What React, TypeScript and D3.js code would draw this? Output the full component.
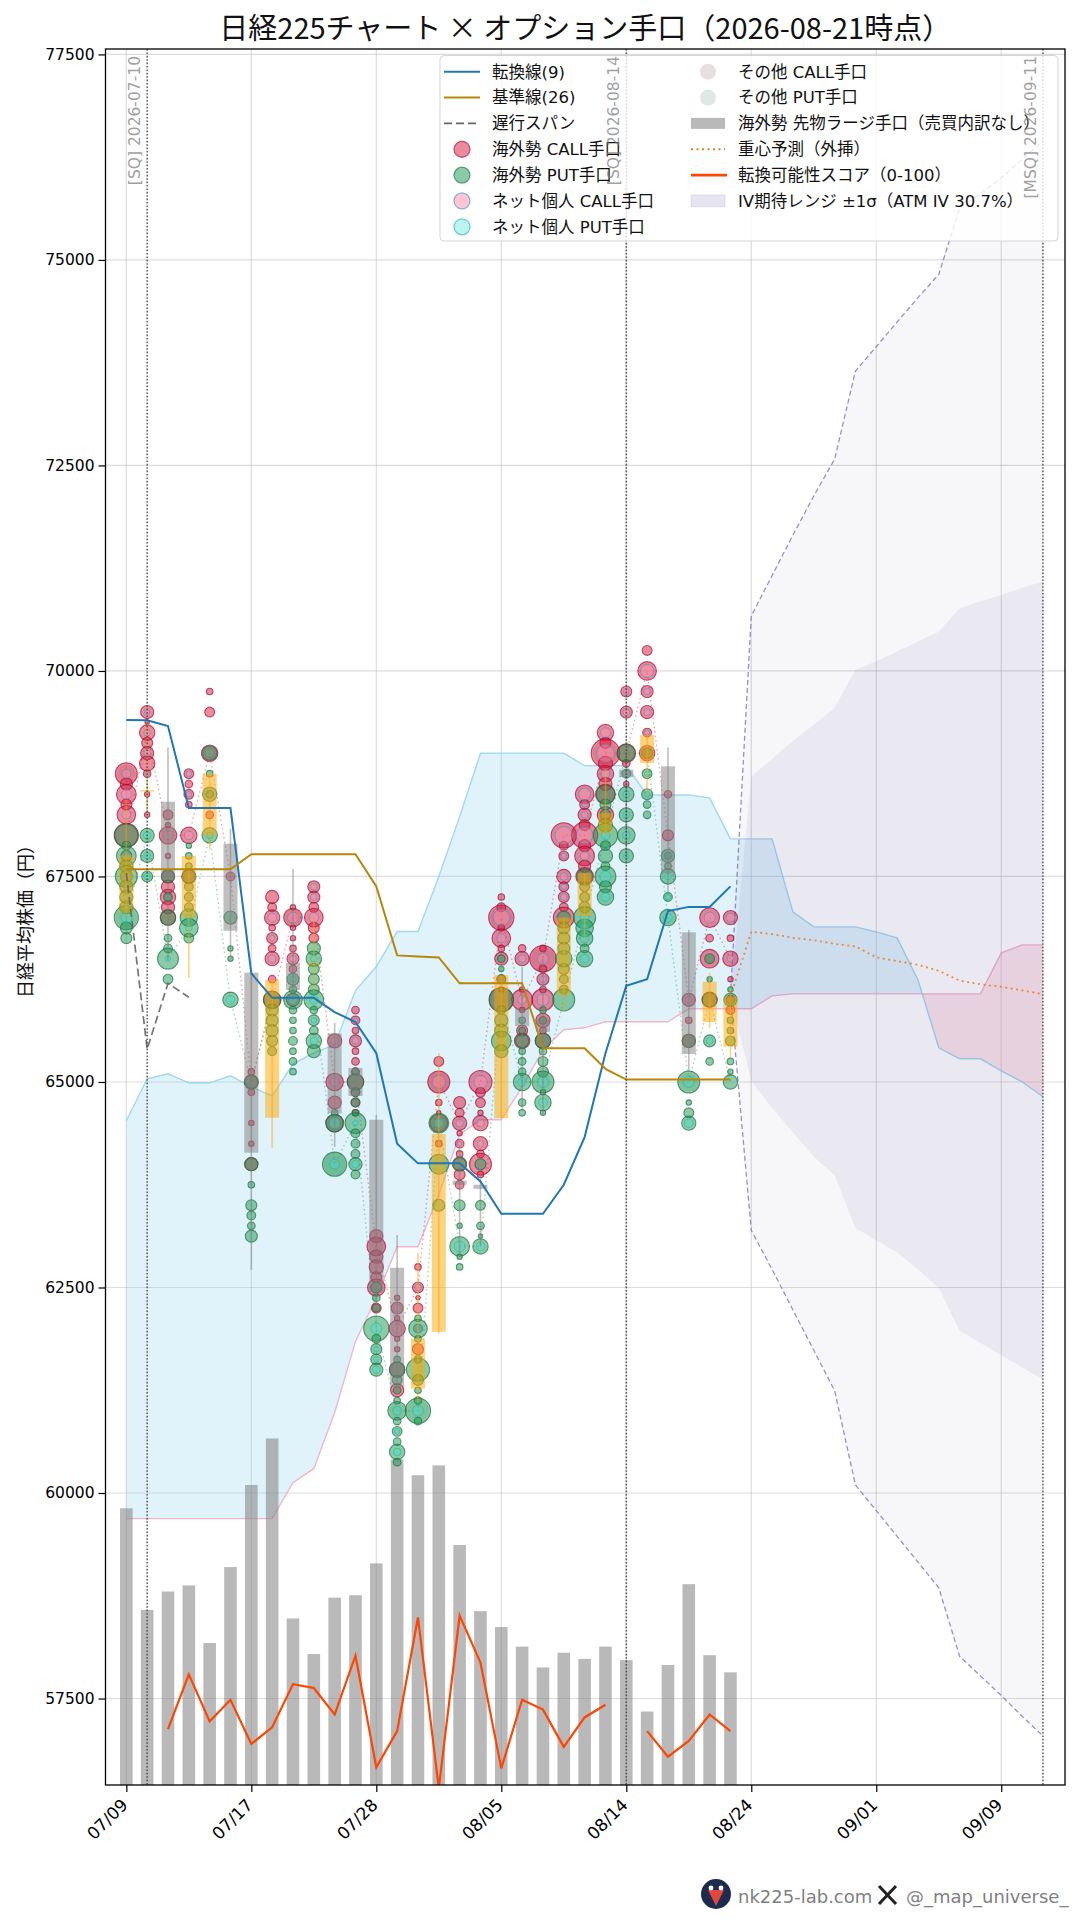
import React, { useRef, useEffect } from "react";
import * as d3 from "d3";

type Row = [number, number, number?];

const W = 1080;
const H = 1920;
const JP = '"Noto Sans CJK JP", "Noto Sans", sans-serif';
const LEGEND_FONT = '"DejaVu Sans", "Noto Sans CJK JP", sans-serif';
const TICK_FONT = '"DejaVu Sans", sans-serif';

const title = "日経225チャート × オプション手口（2026-08-21時点）";
const yLabel = "日経平均株価（円）";
const yTicks = [57500, 60000, 62500, 65000, 67500, 70000, 72500, 75000, 77500];
const xTickIdx = [0, 6, 12, 18, 24, 30, 36, 42];
const xTickLabels = ["07/09", "07/17", "07/28", "08/05", "08/14", "08/24", "09/01", "09/09"];
const sqLines: [number, string][] = [
  [1, "[SQ] 2026-07-10"],
  [24, "[SQ] 2026-08-14"],
  [44, "[MSQ] 2026-09-11"],
];

// ローソク足
const opens = [67057, 68540, 68410, 67000, 68000, 67900, 66330, 64565, 66450, 66420, 65590, 65170, 64540, 62740, 61270, 61960, 63800, 63750, 64560, 65900, 65760, 66060, 67020, 68030, 68800, 68880, 68840, 66820, 65730, 65430];
const closes = [67757, 68550, 67470, 67750, 68750, 66840, 64140, 66240, 66120, 66440, 64620, 64830, 62440, 61290, 61880, 64370, 63750, 63700, 66300, 65680, 65610, 67000, 67540, 68270, 68710, 69220, 67540, 65340, 66220, 66040];
const highs = [68430, 69385, 69070, 67750, 68750, 68080, 66330, 66240, 67590, 67000, 65720, 65170, 64600, 63140, 62920, 65350, 64200, 63900, 66300, 66400, 66500, 67000, 67540, 68800, 68900, 69220, 69070, 66850, 66330, 66150];
const lows = [67000, 68270, 66480, 66265, 67830, 66490, 62715, 64200, 66000, 66100, 64210, 64700, 62230, 61200, 61100, 61940, 62900, 63000, 64560, 64650, 64600, 65850, 66730, 68000, 67700, 68490, 67300, 65130, 65660, 65300];

// 一目均衡表
const tenkan = [69404, 69400, 69330, 68332, 68332, 68332, 66322, 66024, 66024, 66024, 65850, 65730, 65350, 64250, 64010, 64010, 64010, 63790, 63397, 63397, 63397, 63750, 64330, 65350, 66170, 66250, 67080, 67130, 67130, 67380];
const kijun = [67588, 67588, 67588, 67588, 67588, 67588, 67770, 67770, 67770, 67770, 67770, 67770, 67380, 66540, 66525, 66515, 66200, 66200, 66200, 66200, 65410, 65410, 65410, 65160, 65030, 65030, 65030, 65030, 65030, 65030];
const chikou = [67540, 65400, 66200, 66030];
const spanA = [64528, 65039, 65100, 64990, 64990, 65075, 64941, 64832, 65221, 65355, 65452, 66112, 66404, 66830, 66830, 67499, 68228, 68999, 69000, 69000, 69000, 69000, 68848, 68848, 68848, 68492, 68492, 68492, 68456, 67957, 67957, 67957, 67069, 66887, 66887, 66887, 66826, 66753, 66243, 65416, 65282, 65282, 65136, 65002, 64820];
const spanB = [59688, 59688, 59688, 59688, 59688, 59688, 59688, 59688, 60126, 60296, 60977, 61841, 62376, 62996, 62996, 63628, 64358, 64540, 64540, 64941, 65391, 65635, 65659, 65732, 65732, 65732, 65732, 65890, 65890, 65890, 65890, 66048, 66072, 66072, 66072, 66072, 66072, 66072, 66072, 66072, 66072, 66072, 66571, 66668, 66668];

// IVレンジ・重心予測（index 29 から）
const ivStartIdx = 29;
const ivOuterUp = [66040, 70670, 71161, 71653, 72129, 72576, 73648, 73946, 74244, 74541, 74824, 75628, 75807, 76000, 76224, 76447];
const ivOuterLow = [66040, 63195, 62719, 62227, 61736, 61245, 60098, 59785, 59473, 59160, 58847, 58013, 57775, 57537, 57284, 57045];
const ivInnerUp = [66040, 68719, 68928, 69151, 69345, 69553, 70015, 70119, 70238, 70357, 70476, 70759, 70849, 70923, 71012, 71087];
const ivInnerLow = [66040, 65012, 64684, 64387, 64089, 63866, 63225, 63076, 62927, 62719, 62495, 61974, 61825, 61676, 61528, 61379];
const forecast = [66040, 66828, 66798, 66754, 66725, 66680, 66650, 66516, 66471, 66426, 66352, 66233, 66188, 66158, 66114, 66069];

// 先物ラージ手口・転換スコア
const futuresVolume = [22600, 14300, 15800, 16300, 11600, 17800, 24500, 28300, 13600, 10700, 15300, 15500, 18100, 26600, 25300, 26100, 19600, 14200, 12900, 11300, 9600, 10800, 10300, 11300, 10200, 6000, 9800, 16400, 10600, 9200];
const score: (number | null)[] = [null, null, 30, 58, 34, 45, 22.5, 31, 53, 51, 37.5, 67.5, 10.5, 29, 87, 0, 88, 64, 10, 45, 40, 21, 36, 42.5, null, 29, 16, 24, 37.5, 29];

// 日別 CALL手口 [行使価格, 海外勢, ネット個人]
const callsByDay: Row[][] = [
  [[68750, 100, 16], [68625, 30], [68500, 81, 20], [68375, 25], [68250, 72, 16], [68000, 121], [67750, 25], [67500, 30, 9]],
  [[69500, 36, 6], [69375, 4], [69250, 49, 9], [69125, 25], [69000, 36, 9], [68875, 49], [68750, 12, 4], [68500, 6], [68250, 6]],
  [[68250, 20], [68125, 6], [68000, 64, 16], [67750, 6], [67500, 36], [67375, 36], [67250, 49, 9], [67125, 36], [67000, 49]],
  [[68750, 20, 6], [68625, 12], [68500, 20, 6], [68375, 9], [68000, 56, 16], [67500, 42, 12]],
  [[69750, 9], [69500, 20], [69000, 56, 16], [68500, 12], [68250, 12]],
  [[67500, 16]],
  [[65125, 9], [65000, 36], [64875, 9], [64500, 6], [64250, 6], [64000, 36]],
  [[67250, 36], [67125, 16], [67000, 49, 16], [66875, 9], [66750, 25, 6], [66625, 12], [66500, 42, 12], [66250, 12], [66000, 64]],
  [[67125, 6], [67000, 72, 25], [66875, 6], [66750, 6], [66625, 9], [66500, 30, 9], [66375, 12], [66000, 36]],
  [[67375, 30, 9], [67250, 30, 9], [67125, 20], [67000, 72, 20], [66875, 25], [66750, 20]],
  [[65500, 42, 12], [65000, 64, 16], [64750, 36], [64500, 64, 25]],
  [[65875, 12], [65750, 16, 4], [65625, 9], [65500, 30, 9], [65375, 9], [65250, 12], [65125, 12], [65000, 56], [64875, 16], [64750, 16], [64625, 9]],
  [[63125, 36], [63000, 72], [62875, 36], [62750, 42], [62625, 25], [62500, 64, 25], [62250, 20]],
  [[62375, 6], [62250, 30, 12], [62125, 6], [62000, 56, 16], [61875, 6], [61750, 6], [61500, 49], [61250, 36]],
  [[62750, 9], [62500, 25, 9], [62375, 4], [62250, 20], [62000, 16], [61750, 25]],
  [[65250, 20], [65000, 100, 36], [64750, 9], [64625, 4], [64500, 64], [64250, 9]],
  [[64750, 30], [64625, 16], [64500, 42, 12], [64375, 6], [64250, 16, 4], [64125, 9], [64000, 36], [63875, 25], [63750, 16]],
  [[65000, 110, 36], [64875, 20], [64750, 20], [64625, 6], [64500, 49, 12], [64250, 42, 9], [64125, 12], [64000, 100, 25], [63875, 9]],
  [[67250, 9], [67125, 16], [67000, 132, 56], [66875, 9], [66750, 72, 16], [66625, 9], [66500, 36, 9], [66250, 16], [66125, 6], [66000, 121]],
  [[66625, 12], [66500, 42, 12], [66125, 6], [66000, 90, 16], [65875, 6], [65625, 25], [65500, 49]],
  [[66625, 9], [66500, 144, 25], [66375, 12], [66250, 30, 9], [66125, 9], [66000, 100, 30], [65750, 42], [65625, 9], [65500, 49]],
  [[68000, 132, 64], [67875, 16], [67750, 20, 6], [67500, 42, 12], [67375, 20, 6], [67250, 25, 9], [67125, 16], [67000, 90]],
  [[68500, 72, 30], [68375, 20, 6], [68250, 36, 9], [68125, 25], [68000, 144, 56], [67875, 30], [67750, 81, 16], [67625, 30], [67500, 64]],
  [[69250, 56, 20], [69125, 25], [69000, 169, 64], [68875, 42], [68750, 56, 16], [68625, 36], [68500, 81], [68250, 56]],
  [[69750, 25, 6], [69500, 30, 9], [69000, 72], [68875, 12], [68625, 6]],
  [[70250, 20], [70000, 72, 36], [69750, 30, 9], [69500, 36, 9], [69250, 16, 6], [69000, 49]],
  [[68500, 12], [68000, 25], [67750, 9]],
  [[66000, 36, 9], [65750, 9], [65500, 36]],
  [[67000, 81, 25], [66750, 12], [66500, 72], [66000, 49]],
  [[67000, 42, 16], [66750, 9], [66500, 49, 9], [66250, 6], [66000, 16], [65875, 16]],
];

// 日別 PUT手口 [行使価格, 海外勢, ネット個人]
const putsByDay: Row[][] = [
  [[68000, 110], [67875, 16], [67750, 81, 16], [67625, 36], [67500, 100, 25], [67375, 36, 9], [67250, 36, 9], [67125, 36, 9], [67000, 121, 25], [66875, 30], [66750, 25]],
  [[68000, 42, 12], [67750, 36, 9], [67500, 25, 9]],
  [[67500, 36], [67250, 16], [67000, 49], [66750, 12], [66625, 16], [66500, 90, 6], [66250, 20]],
  [[67875, 6], [67750, 9], [67625, 9], [67500, 36], [67375, 16], [67250, 16], [67125, 16], [67000, 64, 9], [66875, 72, 9], [66750, 20]],
  [[69000, 42], [68750, 9], [68500, 42, 9], [68000, 49, 9]],
  [[67000, 36], [66625, 6], [66500, 6], [66000, 49, 16]],
  [[65000, 42], [64000, 36], [63750, 9], [63500, 25], [63375, 16], [63250, 12], [63125, 30]],
  [[66000, 64], [65875, 30], [65750, 30], [65625, 30], [65500, 25], [65375, 16]],
  [[66250, 30, 9], [66125, 12], [66000, 72, 16], [65875, 12], [65750, 9], [65625, 9], [65500, 16], [65375, 9], [65250, 12], [65125, 9]],
  [[66625, 36], [66500, 49, 9], [66375, 25], [66250, 25], [66125, 25], [66000, 81, 16], [65875, 12], [65750, 25, 6], [65625, 16], [65500, 49, 12], [65375, 36]],
  [[64625, 9], [64500, 64, 25], [64000, 121, 20]],
  [[65125, 12], [65000, 56], [64875, 16], [64750, 16], [64625, 9], [64500, 90, 6], [64375, 16], [64250, 16], [64125, 16], [64000, 36, 12], [63875, 16]],
  [[62500, 25], [62375, 12], [62250, 12], [62000, 132, 25], [61875, 16], [61750, 25, 6], [61625, 25, 6], [61500, 36, 12]],
  [[61625, 9], [61500, 49], [61375, 20], [61250, 12], [61125, 9], [61000, 72, 16], [60875, 12], [60750, 20, 6], [60625, 12], [60500, 49, 12], [60375, 12]],
  [[62125, 9], [62000, 72, 16], [61875, 9], [61625, 12], [61500, 110], [61375, 25], [61250, 9], [61125, 12], [61000, 132, 25], [60875, 12]],
  [[64500, 81, 16], [64000, 81], [63500, 30]],
  [[64000, 42], [63500, 25], [63250, 6], [63000, 81, 25], [62875, 6], [62750, 9]],
  [[64000, 25], [63500, 20], [63250, 12], [63125, 4], [63000, 49, 16]],
  [[66500, 12], [66375, 6], [66250, 16], [66000, 121], [65875, 16], [65750, 36], [65625, 36], [65500, 81], [65375, 36]],
  [[65750, 9], [65625, 9], [65500, 36], [65375, 9], [65250, 12], [65125, 12], [65000, 64, 16], [64750, 12], [64625, 9]],
  [[65875, 9], [65750, 12], [65500, 49], [65375, 12], [65250, 20], [65125, 25], [65000, 100, 25], [64875, 6], [64750, 56, 16], [64625, 6]],
  [[67000, 36], [66875, 30], [66750, 30], [66625, 30], [66500, 56], [66375, 25], [66250, 16], [66125, 16], [66000, 100]],
  [[67500, 49], [67375, 20], [67250, 20], [67125, 25], [67000, 100, 16], [66875, 64, 16], [66750, 56, 16], [66625, 16], [66500, 56, 16]],
  [[68500, 72], [68375, 25], [68250, 25], [68125, 42], [68000, 121, 16], [67875, 20], [67750, 42], [67625, 16], [67500, 90, 25], [67375, 30], [67250, 56, 16]],
  [[69000, 64], [68750, 16], [68500, 49, 9], [68250, 42, 9], [68000, 64, 12], [67750, 42, 6]],
  [[69000, 25], [68750, 20, 6], [68500, 25, 6], [68375, 12], [68250, 12]],
  [[67750, 36, 9], [67625, 9], [67500, 49, 9], [67250, 16, 6], [67000, 56, 16]],
  [[65500, 36], [65000, 100, 25], [64750, 6], [64625, 20], [64500, 42, 16]],
  [[66500, 20], [66250, 6, 2], [66000, 42], [65500, 30, 9], [65250, 12]],
  [[66125, 6, 2], [66000, 36], [65750, 9], [65625, 9], [65500, 20], [65250, 9], [65125, 6], [65000, 42]],
];

// その他 [日, 行使価格, 枚数]
const otherCalls: [number, number, number][] = [[0, 68750, 72], [8, 67000, 64], [15, 65000, 81], [18, 67000, 100], [20, 66500, 110], [23, 69000, 132]];
const otherPuts: [number, number, number][] = [[0, 67000, 90], [10, 64000, 100], [13, 61000, 49], [14, 61000, 100], [20, 65000, 64], [27, 65000, 72]];

const legendLeft = ["転換線(9)", "基準線(26)", "遅行スパン", "海外勢 CALL手口", "海外勢 PUT手口", "ネット個人 CALL手口", "ネット個人 PUT手口"];
const legendRight = ["その他 CALL手口", "その他 PUT手口", "海外勢 先物ラージ手口（売買内訳なし）", "重心予測（外挿）", "転換可能性スコア（0-100）", "IV期待レンジ ±1σ（ATM IV 30.7%）"];

const CALL_FILL = "#dc143c";
const CALL_EDGE = "#a01030";
const PUT_FILL = "#1a9850";
const PUT_EDGE = "#1a7040";
const NET_CALL_FILL = "#ff9eb5";
const NET_CALL_EDGE = "#3b8fd0";
const NET_PUT_FILL = "#40e0d0";
const NET_PUT_EDGE = "#20b2aa";

const App: React.FC = () => {
  const svgRef = useRef<SVGSVGElement | null>(null);

  useEffect(() => {
    if (!svgRef.current) return;
    const svg = d3.select(svgRef.current);
    svg.selectAll("*").remove();

    const margin = { top: 49, right: 1065, bottom: 1785, left: 105.5 };

    const x = d3.scaleLinear().domain([-1, 45.06]).range([margin.left, margin.right]);
    const y = d3.scaleLinear().domain([56448, 77566]).range([margin.bottom, margin.top]);
    const yVol = d3.scaleLinear().domain([0, 100000]).range([margin.bottom, margin.bottom - 1224.5]);
    const yScore = d3.scaleLinear().domain([0, 100]).range([1788, 1592]);
    const rSize = d3.scaleSqrt().domain([0, 100]).range([0, 11]);

    svg.append("rect").attr("width", W).attr("height", H).attr("fill", "#fff");

    svg.append("clipPath").attr("id", "plot")
      .append("rect")
      .attr("x", margin.left).attr("y", margin.top)
      .attr("width", margin.right - margin.left).attr("height", margin.bottom - margin.top);

    const g = svg.append("g").attr("clip-path", "url(#plot)");

    // グリッド
    g.append("g").selectAll("line").data(yTicks).join("line")
      .attr("x1", margin.left).attr("x2", margin.right)
      .attr("y1", (d) => y(d)).attr("y2", (d) => y(d))
      .attr("stroke", "#bbb").attr("stroke-opacity", 0.5).attr("stroke-width", 1.2);
    g.append("g").selectAll("line").data(xTickIdx).join("line")
      .attr("x1", (d) => x(d)).attr("x2", (d) => x(d))
      .attr("y1", margin.top).attr("y2", margin.bottom)
      .attr("stroke", "#bbb").attr("stroke-opacity", 0.5).attr("stroke-width", 1.2);

    // 雲
    const spanIdx = d3.range(spanA.length);
    const crossAt = spanIdx.find((i) => i > 0 && spanA[i] < spanB[i])!;
    const dPrev = spanA[crossAt - 1] - spanB[crossAt - 1];
    const dNext = spanA[crossAt] - spanB[crossAt];
    const crossIdx = crossAt - 1 + dPrev / (dPrev - dNext);
    const cloudArea = d3.area<number>().x((i) => x(i)).y0((i) => y(spanA[i])).y1((i) => y(spanB[i]));

    svg.append("clipPath").attr("id", "cloudUp").append("rect")
      .attr("x", 0).attr("y", 0).attr("width", x(crossIdx)).attr("height", H);
    svg.append("clipPath").attr("id", "cloudDown").append("rect")
      .attr("x", x(crossIdx)).attr("y", 0).attr("width", W).attr("height", H);

    g.append("path").attr("d", cloudArea(spanIdx)).attr("clip-path", "url(#cloudUp)")
      .attr("fill", "#87ceeb").attr("fill-opacity", 0.26);
    g.append("path").attr("d", cloudArea(spanIdx)).attr("clip-path", "url(#cloudDown)")
      .attr("fill", "#f4a6b8").attr("fill-opacity", 0.3);

    const lineOf = (arr: number[], offset = 0) =>
      d3.line<number>().x((_, i) => x(i + offset)).y((d) => y(d))(arr);

    g.append("path").attr("d", lineOf(spanA)).attr("fill", "none")
      .attr("stroke", "#87ceeb").attr("stroke-opacity", 0.75).attr("stroke-width", 1.4);
    g.append("path").attr("d", lineOf(spanB)).attr("fill", "none")
      .attr("stroke", "#f0a0b8").attr("stroke-opacity", 0.75).attr("stroke-width", 1.4);

    // IVレンジ
    const ivIdx = d3.range(ivOuterUp.length);
    const ivBand = (up: number[], low: number[]) =>
      d3.area<number>().x((i) => x(i + ivStartIdx)).y0((i) => y(up[i])).y1((i) => y(low[i]))(ivIdx);
    g.append("path").attr("d", ivBand(ivOuterUp, ivOuterLow)).attr("fill", "#483d8b").attr("fill-opacity", 0.045);
    g.append("path").attr("d", ivBand(ivInnerUp, ivInnerLow)).attr("fill", "#483d8b").attr("fill-opacity", 0.07);
    [ivOuterUp, ivOuterLow].forEach((arr) => {
      g.append("path").attr("d", lineOf(arr, ivStartIdx)).attr("fill", "none")
        .attr("stroke", "#7b68b8").attr("stroke-opacity", 0.75).attr("stroke-width", 1.3)
        .attr("stroke-dasharray", "5 3");
    });

    // 先物出来高
    g.append("g").selectAll("rect").data(futuresVolume).join("rect")
      .attr("x", (_, i) => x(i) - 6.3).attr("width", 12.6)
      .attr("y", (d) => yVol(d)).attr("height", (d) => margin.bottom - yVol(d))
      .attr("fill", "#808080").attr("fill-opacity", 0.55);

    // 最大手口を結ぶ点線
    const peakLine = (rows: Row[][]) =>
      d3.line<Row>().x((_, i) => x(i)).y((d) => y(d[0]))(
        rows.map((day) => d3.greatest(day, (r) => r[1])!)
      );
    g.append("path").attr("d", peakLine(callsByDay)).attr("fill", "none")
      .attr("stroke", CALL_FILL).attr("stroke-opacity", 0.4).attr("stroke-width", 1.4)
      .attr("stroke-dasharray", "1.5 3");
    g.append("path").attr("d", peakLine(putsByDay)).attr("fill", "none")
      .attr("stroke", PUT_FILL).attr("stroke-opacity", 0.4).attr("stroke-width", 1.4)
      .attr("stroke-dasharray", "1.5 3");

    // その他
    const drawOther = (rows: [number, number, number][], fill: string) => {
      g.append("g").selectAll("circle").data(rows).join("circle")
        .attr("cx", (d) => x(d[0])).attr("cy", (d) => y(d[1])).attr("r", (d) => rSize(d[2]))
        .attr("fill", fill).attr("fill-opacity", 0.18);
    };
    drawOther(otherCalls, "#8b5f65");
    drawOther(otherPuts, "#5f8b70");

    // 手口バブル
    const drawBubbles = (byDay: Row[][], fill: string, edge: string, netFill: string, netEdge: string) => {
      const flat = byDay.flatMap((rows, day) => rows.map((r) => ({ day, strike: r[0], lots: r[1], net: r[2] ?? 0 })));
      g.append("g").selectAll("circle").data(flat).join("circle")
        .attr("cx", (d) => x(d.day)).attr("cy", (d) => y(d.strike)).attr("r", (d) => rSize(d.lots))
        .attr("fill", fill).attr("fill-opacity", 0.5)
        .attr("stroke", edge).attr("stroke-opacity", 0.7).attr("stroke-width", 1.1);
      g.append("g").selectAll("circle").data(flat.filter((d) => d.net > 0)).join("circle")
        .attr("cx", (d) => x(d.day)).attr("cy", (d) => y(d.strike)).attr("r", (d) => rSize(d.net))
        .attr("fill", netFill).attr("fill-opacity", 0.35)
        .attr("stroke", netEdge).attr("stroke-opacity", 0.55).attr("stroke-width", 1);
    };
    drawBubbles(callsByDay, CALL_FILL, CALL_EDGE, NET_CALL_FILL, NET_CALL_EDGE);
    drawBubbles(putsByDay, PUT_FILL, PUT_EDGE, NET_PUT_FILL, NET_PUT_EDGE);

    // ローソク足
    const candleColor = (i: number) => (closes[i] >= opens[i] ? "#ffa500" : "#808080");
    const days = d3.range(opens.length);
    g.append("g").selectAll("line").data(days).join("line")
      .attr("x1", (i) => x(i)).attr("x2", (i) => x(i))
      .attr("y1", (i) => y(highs[i])).attr("y2", (i) => y(lows[i]))
      .attr("stroke", (i) => candleColor(i)).attr("stroke-opacity", 0.5).attr("stroke-width", 1.6);
    g.append("g").selectAll("rect").data(days).join("rect")
      .attr("x", (i) => x(i) - 7).attr("width", 14)
      .attr("y", (i) => y(Math.max(opens[i], closes[i])))
      .attr("height", (i) => Math.max(1.5, Math.abs(y(opens[i]) - y(closes[i]))))
      .attr("fill", (i) => candleColor(i)).attr("fill-opacity", 0.5);

    // 転換線・基準線・遅行スパン
    g.append("path").attr("d", lineOf(tenkan)).attr("fill", "none").attr("stroke", "#1f77b4").attr("stroke-width", 2);
    g.append("path").attr("d", lineOf(kijun)).attr("fill", "none").attr("stroke", "#b8860b").attr("stroke-width", 2);
    g.append("path").attr("d", lineOf(chikou)).attr("fill", "none").attr("stroke", "#666")
      .attr("stroke-opacity", 0.9).attr("stroke-width", 1.7).attr("stroke-dasharray", "8 4");

    // 重心予測
    g.append("path").attr("d", lineOf(forecast, ivStartIdx)).attr("fill", "none")
      .attr("stroke", "#e67e22").attr("stroke-opacity", 0.85).attr("stroke-width", 1.8)
      .attr("stroke-dasharray", "2 3.5");

    // 転換スコア
    const scoreLine = d3.line<number | null>()
      .defined((d) => d !== null)
      .x((_, i) => x(i)).y((d) => yScore(d as number));
    g.append("path").attr("d", scoreLine(score)).attr("fill", "none")
      .attr("stroke", "#ff4500").attr("stroke-width", 2.2);

    // SQ線
    g.append("g").selectAll("line").data(sqLines).join("line")
      .attr("x1", (d) => x(d[0])).attr("x2", (d) => x(d[0]))
      .attr("y1", margin.top).attr("y2", margin.bottom)
      .attr("stroke", "#444").attr("stroke-opacity", 0.85).attr("stroke-width", 1.6)
      .attr("stroke-dasharray", "1.6 1.8");

    // 凡例
    const lg = svg.append("g");
    lg.append("rect").attr("x", 440).attr("y", 55.5).attr("width", 618).attr("height", 185.5).attr("rx", 4)
      .attr("fill", "#fff").attr("fill-opacity", 0.8).attr("stroke", "#ccc").attr("stroke-opacity", 0.8);
    const rowY = (n: number) => 71.7 + n * 25.85;
    const legendText = (tx: number, n: number, s: string) => {
      lg.append("text").attr("x", tx).attr("y", rowY(n)).attr("dy", "0.36em")
        .attr("font-family", LEGEND_FONT).attr("font-size", 16.5).attr("fill", "#111").text(s);
    };
    legendLeft.forEach((s, n) => legendText(492, n, s));
    legendRight.forEach((s, n) => legendText(738, n, s));

    const hLine = (x1: number, x2: number, n: number, color: string, sw: number, dash?: string) => {
      lg.append("line").attr("x1", x1).attr("x2", x2).attr("y1", rowY(n)).attr("y2", rowY(n))
        .attr("stroke", color).attr("stroke-width", sw).attr("stroke-dasharray", dash ?? null);
    };
    hLine(444, 480, 0, "#1f77b4", 2);
    hLine(444, 480, 1, "#b8860b", 2);
    hLine(444, 480, 2, "#666", 1.7, "8 4");
    const dot = (cx: number, n: number, fill: string, fo: number, edge: string | null) => {
      lg.append("circle").attr("cx", cx).attr("cy", rowY(n)).attr("r", 8)
        .attr("fill", fill).attr("fill-opacity", fo)
        .attr("stroke", edge ?? "none").attr("stroke-opacity", 0.6).attr("stroke-width", 1.3);
    };
    dot(462, 3, CALL_FILL, 0.5, CALL_EDGE);
    dot(462, 4, PUT_FILL, 0.5, PUT_EDGE);
    dot(462, 5, "#ff9eb5", 0.6, NET_CALL_EDGE);
    dot(462, 6, NET_PUT_FILL, 0.35, NET_PUT_EDGE);
    dot(708, 0, "#8b5f65", 0.2, null);
    dot(708, 1, "#5f8b70", 0.2, null);
    lg.append("rect").attr("x", 691).attr("y", rowY(2) - 5.5).attr("width", 34).attr("height", 11)
      .attr("fill", "#808080").attr("fill-opacity", 0.55);
    hLine(691, 725, 3, "#e67e22", 1.8, "2 3.5");
    hLine(691, 727, 4, "#ff4500", 2.8);
    lg.append("rect").attr("x", 691).attr("y", rowY(5) - 6).attr("width", 34).attr("height", 12)
      .attr("fill", "#483d8b").attr("fill-opacity", 0.13).attr("stroke", "#483d8b").attr("stroke-opacity", 0.1);

    // SQラベル
    svg.append("g").selectAll("text").data(sqLines).join("text")
      .attr("transform", (d) => `translate(${x(d[0]) - 7},56) rotate(-90)`)
      .attr("text-anchor", "end")
      .attr("font-family", TICK_FONT).attr("font-size", 15.5).attr("fill", "#808080").attr("fill-opacity", 0.75)
      .text((d) => d[1]);

    // 軸
    const yAxis = d3.axisLeft(y).tickValues(yTicks).tickSize(7).tickPadding(4).tickFormat((d) => String(d));
    const yG = svg.append("g").attr("transform", `translate(${margin.left},0)`).call(yAxis);
    yG.select(".domain").remove();
    yG.selectAll("text").attr("font-family", TICK_FONT).attr("font-size", 15.5).attr("fill", "#000");
    yG.selectAll("line").attr("stroke-width", 1.2);

    const xAxis = d3.axisBottom(x).tickValues(xTickIdx).tickSize(7)
      .tickFormat((_, i) => xTickLabels[i]);
    const xG = svg.append("g").attr("transform", `translate(0,${margin.bottom})`).call(xAxis);
    xG.select(".domain").remove();
    xG.selectAll("line").attr("stroke-width", 1.2);
    xG.selectAll("text")
      .attr("font-family", TICK_FONT).attr("font-size", 17).attr("fill", "#000")
      .attr("text-anchor", "end").attr("y", 0).attr("dy", 0)
      .attr("transform", "translate(2,21) rotate(-45)");

    svg.append("rect")
      .attr("x", margin.left).attr("y", margin.top)
      .attr("width", margin.right - margin.left).attr("height", margin.bottom - margin.top)
      .attr("fill", "none").attr("stroke", "#000").attr("stroke-width", 1.3);

    // タイトル
    svg.append("text").attr("x", (margin.left + margin.right) / 2).attr("y", 39)
      .attr("text-anchor", "middle").attr("font-family", JP).attr("font-size", 29).attr("fill", "#111").text(title);
    svg.append("text").attr("transform", `translate(32,${(margin.top + margin.bottom) / 2}) rotate(-90)`)
      .attr("text-anchor", "middle").attr("font-family", JP).attr("font-size", 18).attr("fill", "#111").text(yLabel);

    // フッター
    const f = svg.append("g");
    f.append("circle").attr("cx", 716).attr("cy", 1894).attr("r", 15).attr("fill", "#1d2b4f");
    f.append("path").attr("d", "M708 1890 h16 l-8 16 z").attr("fill", "#e0483e");
    f.append("circle").attr("cx", 711).attr("cy", 1888).attr("r", 2.4).attr("fill", "#fff");
    f.append("circle").attr("cx", 721).attr("cy", 1888).attr("r", 2.4).attr("fill", "#fff");
    f.append("text").attr("x", 738).attr("y", 1903).attr("font-family", TICK_FONT).attr("font-size", 18).attr("fill", "#808080").text("nk225-lab.com");
    f.append("path").attr("d", "M879 1886 L896 1904 M896 1886 L879 1904").attr("stroke", "#222").attr("stroke-width", 3);
    f.append("text").attr("x", 906).attr("y", 1903).attr("font-family", TICK_FONT).attr("font-size", 18).attr("fill", "#808080").text("@_map_universe_");
  }, []);

  return <svg ref={svgRef} width={W} height={H} style={{ position: "absolute", left: 0, top: 0 }} />;
};

export default App;
